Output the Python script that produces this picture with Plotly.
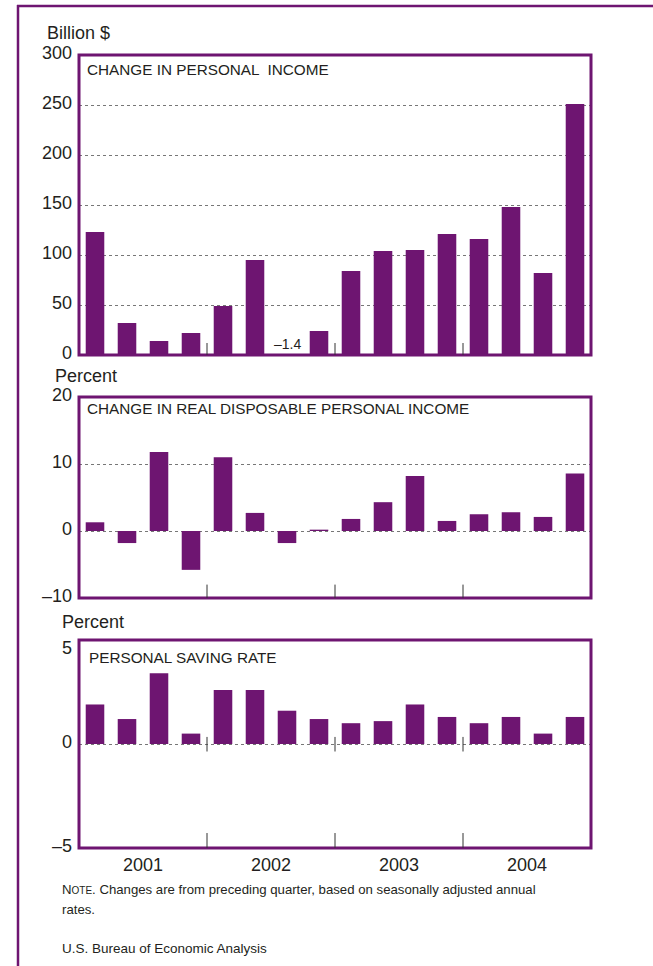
import plotly.graph_objects as go

W, H = 653, 966

quarters = list(range(16))
year_labels = ["2001", "2002", "2003", "2004"]
year_centers = [1.5, 5.5, 9.5, 13.5]
year_bounds = [3.5, 7.5, 11.5]

income_change = [123, 32, 14, 22, 49, 95, -1.4, 24, 84, 104, 105, 121, 116, 148, 82, 251]
real_dpi_change = [1.3, -1.8, 11.8, -5.8, 11.0, 2.7, -1.8, 0.2, 1.8, 4.3, 8.2, 1.5, 2.5, 2.8, 2.1, 8.6]
saving_rate = [1.9, 1.2, 3.4, 0.5, 2.6, 2.6, 1.6, 1.2, 1.0, 1.1, 1.9, 1.3, 1.0, 1.3, 0.5, 1.3]

ticks1 = [0, 50, 100, 150, 200, 250, 300]
ticks2 = [-10, 0, 10, 20]
ticks2_text = ["\u201310", "0", "10", "20"]
ticks3 = [-5, 0]
ticks3_text = ["\u20135", "0"]
ticks3_top = 5

PURPLE = "#6E1571"
TEXT = "#231F20"
ARIAL = "Liberation Sans, Arial, sans-serif"


def fx(x):
    return x / W


def fy(y):
    return 1 - y / H


xdom = [fx(79), fx(591)]
dom1 = [fy(355), fy(55)]
dom2 = [fy(598), fy(397)]
dom3 = [fy(848), fy(640)]

fig = go.Figure()
for vals, xa, ya in [(income_change, "x", "y"), (real_dpi_change, "x2", "y2"), (saving_rate, "x3", "y3")]:
    fig.add_trace(go.Bar(x=quarters, y=vals, xaxis=xa, yaxis=ya, width=0.58,
                         marker=dict(color=PURPLE, line=dict(width=0)),
                         showlegend=False, hoverinfo="skip"))

xcommon = dict(range=[-0.5, 15.5], domain=xdom, showgrid=False, zeroline=False,
               showline=False, ticks="", fixedrange=True, automargin=False)
ycommon = dict(showgrid=True, griddash="dot", gridcolor="#777", gridwidth=1,
               zeroline=False, showline=False, ticks="", automargin=False, fixedrange=True,
               ticklabelstandoff=6, ticklabelshift=-2,
               tickfont=dict(family=ARIAL, size=18, color=TEXT))

fig.update_layout(
    template="none",
    width=W, height=H,
    margin=dict(l=0, r=0, t=0, b=0, pad=0),
    paper_bgcolor="white", plot_bgcolor="white",
    bargap=0.42,
    xaxis=dict(xcommon, anchor="y", showticklabels=False),
    xaxis2=dict(xcommon, anchor="y2", showticklabels=False),
    xaxis3=dict(xcommon, anchor="y3", showticklabels=True, tickvals=year_centers,
                ticktext=year_labels, ticklabelstandoff=4,
                tickfont=dict(family=ARIAL, size=18, color=TEXT)),
    yaxis=dict(ycommon, domain=dom1, range=[0, 300], tickvals=ticks1, anchor="x"),
    yaxis2=dict(ycommon, domain=dom2, range=[-10, 20], tickvals=ticks2, ticktext=ticks2_text, anchor="x2"),
    yaxis3=dict(ycommon, domain=dom3, range=[-5, 5], tickvals=ticks3, ticktext=ticks3_text, anchor="x3"),
)

shapes = []
for xr, yr in [("x domain", "y domain"), ("x2 domain", "y2 domain"), ("x3 domain", "y3 domain")]:
    shapes.append(dict(type="rect", xref=xr, yref=yr, x0=0, x1=1, y0=0, y1=1,
                       line=dict(color=PURPLE, width=3), layer="above"))
for b in year_bounds:
    shapes.append(dict(type="line", xref="x", yref="y", x0=b, x1=b, y0=0, y1=12,
                       line=dict(color="#333", width=1)))
    shapes.append(dict(type="line", xref="x2", yref="y2", x0=b, x1=b, y0=-10, y1=-8,
                       line=dict(color="#333", width=1)))
    shapes.append(dict(type="line", xref="x3", yref="y3", x0=b, x1=b, y0=-0.36, y1=0.34,
                       line=dict(color="#333", width=1)))
    shapes.append(dict(type="line", xref="x3", yref="y3", x0=b, x1=b, y0=-5, y1=-4.28,
                       line=dict(color="#333", width=1)))
shapes.append(dict(type="line", xref="paper", yref="paper", x0=fx(18), x1=fx(18), y0=0, y1=fy(5),
                   line=dict(color=PURPLE, width=2.5)))
shapes.append(dict(type="line", xref="paper", yref="paper", x0=fx(17), x1=1, y0=fy(6), y1=fy(6),
                   line=dict(color=PURPLE, width=2.5)))
fig.update_layout(shapes=shapes)

ann = []


def txt(text, x, y, size, xanchor="left"):
    ann.append(dict(text=text, x=fx(x), y=fy(y), xref="paper", yref="paper",
                    xanchor=xanchor, yanchor="middle", showarrow=False, align="left",
                    borderpad=0,
                    font=dict(family=ARIAL, size=size, color=TEXT)))


txt("Billion $", 46, 33, 18)
txt("Percent", 54, 376, 18)
txt("Percent", 61, 622, 18)
txt("CHANGE IN PERSONAL  INCOME", 86, 70, 15.3)
txt("CHANGE IN REAL DISPOSABLE PERSONAL INCOME", 86, 408, 15.3)
txt("PERSONAL SAVING RATE", 88, 657, 15.3)
txt("N<span style='font-size:10px'>OTE</span>. Changes are from preceding quarter, based on seasonally adjusted annual",
    61, 889, 13.2)
txt("rates.", 61, 909, 13.2)
txt("U.S. Bureau of Economic Analysis", 61, 948, 13.5)

# top tick label of the saving-rate panel, set slightly below its gridline as in the original
ann.append(dict(text=str(ticks3_top), x=fx(73), y=ticks3_top, xref="paper", yref="y3",
                xanchor="right", yanchor="middle", yshift=-8, showarrow=False, borderpad=0,
                font=dict(family=ARIAL, size=18, color=TEXT)))

ann.append(dict(text="\u20131.4", x=6, y=0, xref="x", yref="y", xanchor="center", yanchor="bottom",
                yshift=1, showarrow=False, font=dict(family=ARIAL, size=14, color=TEXT)))
fig.update_layout(annotations=ann)

fig.write_html("out.html", config={"displayModeBar": False, "staticPlot": True},
               post_script="document.body.style.margin='0';document.body.style.overflow='hidden';")
